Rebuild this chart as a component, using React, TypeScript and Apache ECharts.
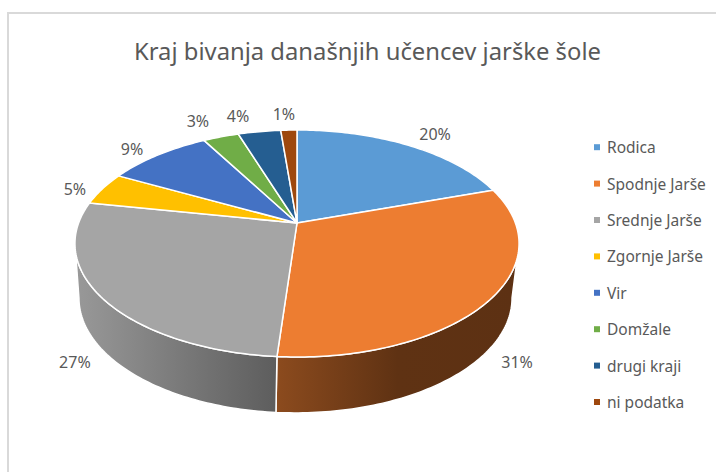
import React, { useEffect, useRef } from "react";
import * as echarts from "echarts";

const categories = ["Rodica", "Spodnje Jarše", "Srednje Jarše", "Zgornje Jarše", "Vir", "Domžale", "drugi kraji", "ni podatka"];
const shares = [19.9, 31.3, 26.8, 4.7, 9.1, 3.1, 3.7, 1.4];
const colors = ["#5b9bd5", "#ed7d31", "#a5a5a5", "#ffc000", "#4472c4", "#70ad47", "#255e91", "#9e480e"];
const titleText = "Kraj bivanja današnjih učencev jarške šole";

// Perspective of the tilted disc: the top and bottom planes of the cylinder.
const PERSPECTIVE = 0.1806;
const TOP = { cx: 297, cy: 223, rx: 218.4, ry: 109.8 };
const BOTTOM = { cx: 295.5, cy: 277.2, rx: 213, ry: 111.2 };
const WALL_FROM = 100.4;
const WALL_TO = 259.6;
const LABEL_OFFSETS: Record<number, [number, number]> = {
  0: [26.6, -11.3], 1: [32.7, 7.7], 2: [-30.6, 9], 3: [-27.5, 0.2],
  4: [-25.7, -6.1], 5: [-23, -16], 6: [-21.3, -15.6], 7: [-5, -16],
};
const WALL_SHADES: Record<number, [number, string][]> = {
  1: [[0, "#8c4b1e"], [0.5, "#5f3213"], [1, "#5d3113"]],
  2: [[0, "#999999"], [1, "#5d5d5d"]],
};
const FONT = '"Noto Sans", sans-serif';
const TEXT = "#595959";

function project(plane: typeof TOP, deg: number): [number, number] {
  const a = (deg * Math.PI) / 180;
  const u = Math.sin(a);
  const v = Math.cos(a);
  const w = 1 + PERSPECTIVE * v;
  return [plane.cx + (plane.rx * u) / w, plane.cy - (plane.ry * v) / w];
}

function arc(plane: typeof TOP, from: number, to: number): [number, number][] {
  const n = Math.max(2, Math.ceil(Math.abs(to - from)));
  const pts: [number, number][] = [];
  for (let i = 0; i <= n; i++) pts.push(project(plane, from + ((to - from) * i) / n));
  return pts;
}

const total = shares.reduce((s, v) => s + v, 0);

function makeRenderItem(index: number) {
  return (_params: any, api: any) => {
    const value = api.value(0) as number;
    let before = 0;
    for (let i = 0; i < index; i++) before += shares[i];
    const start = (before / total) * 360;
    const end = ((before + value) / total) * 360;
    const mid = (start + end) / 2;
    const children: any[] = [];
    const from = Math.max(start, WALL_FROM);
    const to = Math.min(end, WALL_TO);
    if (to > from) {
      children.push({
        type: "polygon",
        shape: { points: [...arc(TOP, from, to), ...arc(BOTTOM, to, from)] },
        style: {
          fill: new echarts.graphic.LinearGradient(
            0, 0, 1, 0,
            (WALL_SHADES[index] || [[0, colors[index]], [1, colors[index]]]).map(([offset, color]) => ({ offset, color })),
          ),
          stroke: "#ffffff",
          lineWidth: 1.5,
          lineJoin: "round",
        },
      });
    }
    children.push({
      type: "polygon",
      shape: { points: [[TOP.cx, TOP.cy], ...arc(TOP, start, end)] },
      style: { fill: colors[index], stroke: "#ffffff", lineWidth: 1.5, lineJoin: "round" },
    });
    const onWall = mid > WALL_FROM && mid < WALL_TO;
    const [ax, ay] = project(onWall ? BOTTOM : TOP, mid);
    const [ox, oy] = LABEL_OFFSETS[index];
    children.push({
      type: "text",
      z2: 10,
      style: {
        text: `${Math.round((value / total) * 100)}%`,
        x: ax + ox,
        y: ay + oy,
        fill: TEXT,
        font: `16px ${FONT}`,
        textAlign: "center",
        textVerticalAlign: "middle",
      },
    });
    return { type: "group", children };
  };
}

export default function App() {
  const ref = useRef<HTMLDivElement>(null);
  useEffect(() => {
    if (!ref.current) return;
    const chart = echarts.init(ref.current, undefined, { renderer: "svg" });
    chart.setOption({
      animation: false,
      backgroundColor: "#ffffff",
      color: colors,
      title: {
        text: titleText,
        left: 362.5,
        textAlign: "center",
        top: 34,
        textStyle: { color: TEXT, fontFamily: FONT, fontSize: 23.8, fontWeight: "normal" },
      },
      legend: {
        orient: "vertical",
        left: 594,
        top: 137.5,
        padding: 0,
        itemWidth: 6,
        itemHeight: 6,
        itemGap: 17,
        icon: "rect",
        selectedMode: false,
        data: categories,
        textStyle: { color: TEXT, fontFamily: FONT, fontSize: 15.5, padding: [0, 0, 0, 2], lineHeight: 19.4 },
      },
      graphic: [
        {
          type: "polyline",
          silent: true,
          shape: { points: [[8, 472], [8, 13], [716, 13]] },
          style: { stroke: "#d9d9d9", lineWidth: 2, fill: "none" },
        },
      ],
      series: categories.map((name, i) => ({
        type: "custom",
        name,
        coordinateSystem: "none",
        itemStyle: { color: colors[i] },
        renderItem: makeRenderItem(i),
        data: [[shares[i]]],
      })),
    });
    return () => chart.dispose();
  }, []);
  return <div ref={ref} style={{ position: "absolute", left: 0, top: 0, width: 716, height: 472 }} />;
}
